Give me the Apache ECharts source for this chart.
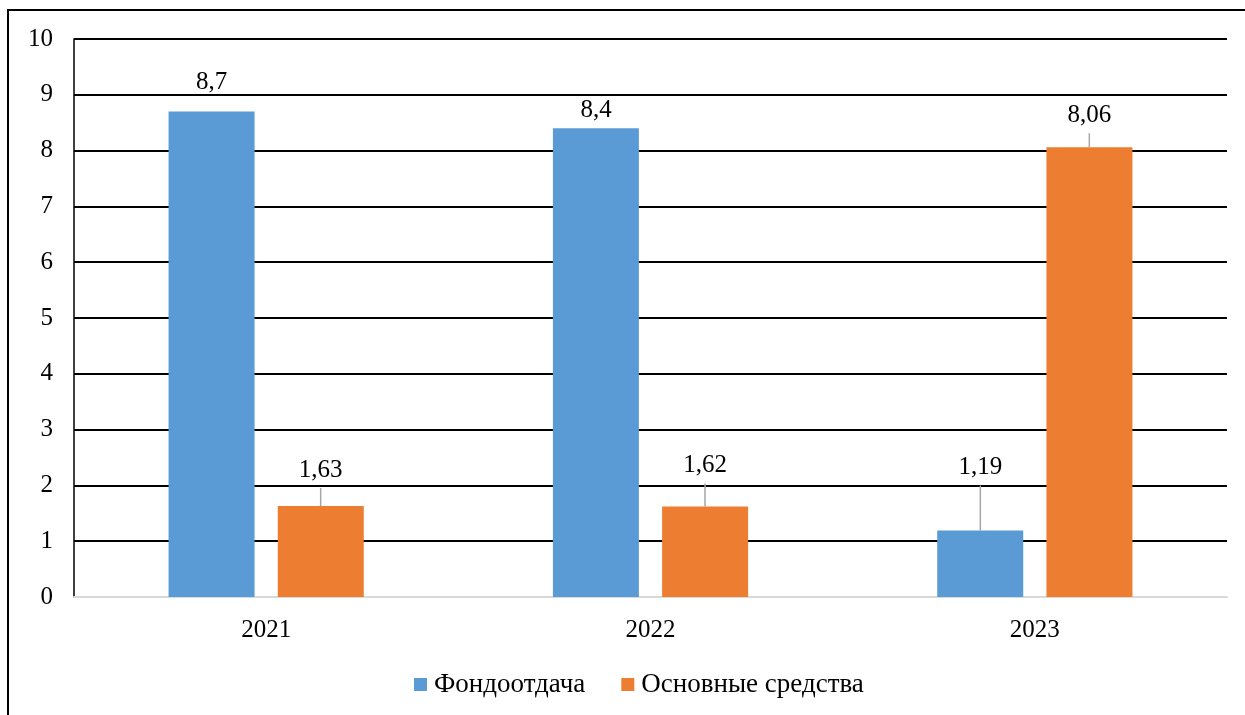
<!doctype html>
<html>
<head>
<meta charset="utf-8">
<title>Фондоотдача</title>
<script src="https://cdn.jsdelivr.net/npm/echarts@6/dist/echarts.min.js"></script>
<style>
  html, body {margin:0; padding:0; background:#fff;}
  #main {width:1245px; height:715px;}
</style>
</head>
<body>
<div id="main"></div>
<script>
  // данные
  var years = ['2021', '2022', '2023'];
  var fondootdacha = [8.7, 8.4, 1.19];
  var osnovnye = [1.63, 1.62, 8.06];
  // подъём подписей над столбиками (px) и выноски
  var liftBlue = [29, 18, 63];
  var liftOrange = [36, 41, 32];
  var lineBlue = [false, false, true];
  var lineOrange = [true, true, true];

  var font = 'Liberation Serif';
  var fs = 25;
  var barW = 86, barGapPx = 23;

  function fmt(v) { return String(v).replace('.', ','); }

  // подписи с выносками
  function labelSeries(values, lifts, lines, side) {
    return {
      type: 'custom',
      silent: true,
      z: 5,
      data: values.map(function (v, i) { return [i, v]; }),
      renderItem: function (params, api) {
        var i = params.dataIndex;
        var p = api.coord([api.value(0), api.value(1)]);
        var x = p[0] + side * (barW + barGapPx) / 2;
        var top = p[1];
        var cy = top - lifts[i];
        var children = [{
          type: 'text',
          style: {
            text: fmt(values[i]), x: x, y: cy,
            align: 'center', verticalAlign: 'middle',
            fill: '#000', font: fs + 'px "Liberation Serif"'
          }
        }];
        if (lines[i]) {
          children.push({
            type: 'line',
            shape: {x1: x, y1: cy + 18, x2: x, y2: top},
            style: {stroke: '#a6a6a6', lineWidth: 1.5}
          });
        }
        return {type: 'group', children: children};
      }
    };
  }

  var myChart = echarts.init(document.getElementById('main'));
  myChart.setOption({
    animation: false,
    textStyle: {fontFamily: font},
    graphic: [{
      type: 'rect',
      shape: {x: 8, y: 10, width: 1400, height: 900},
      style: {fill: 'none', stroke: '#000', lineWidth: 2},
      silent: true
    }],
    grid: {left: 74, right: 18, top: 39, bottom: 118},
    legend: {
      left: 409,
      bottom: 12,
      itemWidth: 13,
      itemHeight: 13,
      itemGap: 36,
      icon: 'rect',
      textStyle: {fontFamily: font, fontSize: 27, color: '#000', padding: [0, 0, 0, 2]},
      data: ['Фондоотдача', 'Основные средства']
    },
    xAxis: {
      type: 'category',
      data: years,
      axisTick: {show: false},
      axisLine: {lineStyle: {color: '#d9d9d9', width: 2}},
      axisLabel: {fontFamily: font, fontSize: fs, color: '#000', margin: 21}
    },
    yAxis: {
      type: 'value',
      min: 0,
      max: 10,
      interval: 1,
      axisLine: {show: true, lineStyle: {color: '#000', width: 1.5}},
      axisTick: {show: false},
      axisLabel: {fontFamily: font, fontSize: fs, color: '#000', margin: 21},
      splitLine: {lineStyle: {color: '#000', width: 2}}
    },
    series: [{
      name: 'Фондоотдача',
      type: 'bar',
      barWidth: barW,
      barGap: '27%',
      itemStyle: {color: '#5b9bd5'},
      data: fondootdacha
    }, {
      name: 'Основные средства',
      type: 'bar',
      barWidth: barW,
      barGap: '27%',
      itemStyle: {color: '#ed7d31'},
      data: osnovnye
    },
    labelSeries(fondootdacha, liftBlue, lineBlue, -1),
    labelSeries(osnovnye, liftOrange, lineOrange, 1)
    ]
  });
</script>
</body>
</html>
